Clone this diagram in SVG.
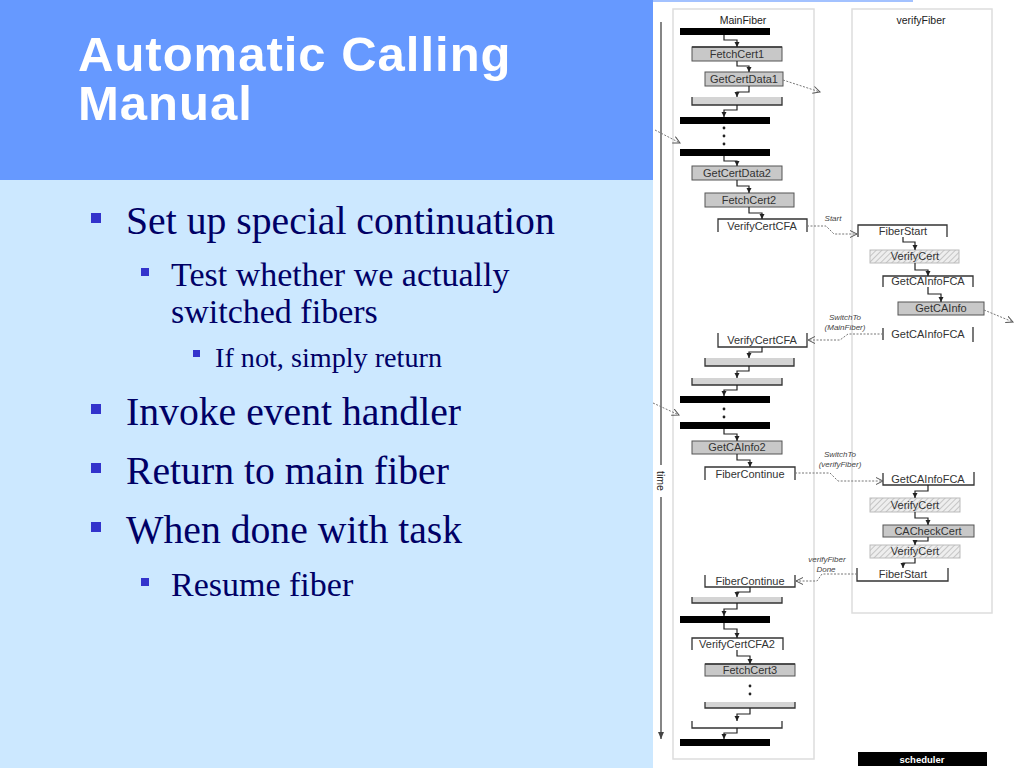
<svg xmlns="http://www.w3.org/2000/svg" width="1024" height="768" viewBox="0 0 1024 768">
<defs>
<style>
.title{font-family:"Liberation Sans",Arial,sans-serif;font-weight:bold;font-size:49px;letter-spacing:1px;fill:#ffffff}
.b1{font-family:"Liberation Serif","Times New Roman",serif;font-size:39.7px;fill:#000066}
.b2{font-family:"Liberation Serif","Times New Roman",serif;font-size:34px;fill:#000066}
.b3{font-family:"Liberation Serif","Times New Roman",serif;font-size:28.2px;fill:#000066}
.bul{fill:#3333cc}
.lbl{font-family:"Liberation Sans",Arial,sans-serif;font-size:11px;fill:#333333;text-anchor:middle}
.col{font-family:"Liberation Sans",Arial,sans-serif;font-size:10.5px;fill:#222222;text-anchor:middle}
.it{font-family:"Liberation Sans",Arial,sans-serif;font-size:8px;font-style:italic;fill:#444444;text-anchor:middle}
.bar{fill:#000000}
.call{fill:#c8c8c8;stroke:#555555;stroke-width:1}
.ret{fill:#d4d4d4;stroke:none}
.brk{fill:none;stroke:#333333;stroke-width:1.3}
.hat{fill:url(#hatch);stroke:#bbbbbb;stroke-width:1}
.con{fill:none;stroke:#222222;stroke-width:1.2;marker-end:url(#tip)}
.dot{fill:none;stroke:#777777;stroke-width:1;stroke-dasharray:2,1.5;marker-end:url(#dtip)}
.colbox{fill:none;stroke:#dddddd;stroke-width:1.5}
</style>
<pattern id="hatch" width="4" height="4" patternUnits="userSpaceOnUse" patternTransform="rotate(45)">
<rect width="4" height="4" fill="#eeeeee"/>
<line x1="0" y1="0" x2="0" y2="4" stroke="#aaaaaa" stroke-width="1.2"/>
</pattern>
<marker id="tip" markerUnits="userSpaceOnUse" markerWidth="6" markerHeight="6" refX="5" refY="3" orient="auto">
<path d="M0,0.5 L5,3 L0,5.5 z" fill="#222222"/>
</marker>
<marker id="dtip" markerUnits="userSpaceOnUse" markerWidth="8" markerHeight="8" refX="7" refY="4" orient="auto">
<path d="M0,0.5 L7,4 L0,7.5" fill="none" stroke="#555555" stroke-width="1"/>
</marker>
<marker id="axis" markerUnits="userSpaceOnUse" markerWidth="8" markerHeight="8" refX="4" refY="7" orient="0">
<path d="M1,0 L4,7 L7,0 z" fill="#444444"/>
</marker>
</defs>

<!-- backgrounds -->
<rect x="0" y="0" width="1024" height="768" fill="#ffffff"/>
<rect x="0" y="180" width="653" height="588" fill="#cce8ff"/>
<rect x="0" y="0" width="653" height="180" fill="#6699ff"/>
<rect x="653" y="0" width="260" height="2" fill="#6699ff" opacity="0.6"/>

<!-- title -->
<g id="title">
<text class="title" x="78" y="71">Automatic Calling</text>
<text class="title" x="78" y="120">Manual</text>
</g>

<!-- bullets -->
<g id="bullets">
<rect class="bul" x="91" y="213" width="10" height="10"/>
<text class="b1" x="126" y="234">Set up special continuation</text>
<rect class="bul" x="141" y="268" width="8" height="8"/>
<text class="b2" x="171" y="286">Test whether we actually</text>
<text class="b2" x="171" y="323">switched fibers</text>
<rect class="bul" x="193" y="350" width="7" height="7"/>
<text class="b3" x="215" y="367">If not, simply return</text>
<rect class="bul" x="91" y="404" width="10" height="10"/>
<text class="b1" x="126" y="425">Invoke event handler</text>
<rect class="bul" x="91" y="463" width="10" height="10"/>
<text class="b1" x="126" y="484">Return to main fiber</text>
<rect class="bul" x="91" y="522" width="10" height="10"/>
<text class="b1" x="126" y="543">When done with task</text>
<rect class="bul" x="141" y="578" width="8" height="8"/>
<text class="b2" x="171" y="596">Resume fiber</text>
</g>

<!-- time axis -->
<g id="time-axis">
<line x1="661" y1="22" x2="661" y2="465" stroke="#444444" stroke-width="1.3"/>
<line x1="661" y1="497" x2="661" y2="739" stroke="#444444" stroke-width="1.3" marker-end="url(#axis)"/>
<text x="661" y="481" transform="rotate(90 661 481)" text-anchor="middle" dominant-baseline="central" font-family="'Liberation Sans',Arial,sans-serif" font-size="10.5" fill="#222222">time</text>
</g>

<!-- fiber columns -->
<g id="col-mainfiber">
<rect class="colbox" x="673" y="9" width="141" height="750"/>
<text class="col" x="743" y="24">MainFiber</text>
</g>
<g id="col-verifyfiber">
<rect class="colbox" x="852" y="9" width="140" height="604"/>
<text class="col" x="921" y="24">verifyFiber</text>
</g>

<!-- MainFiber nodes -->
<g id="n-bar1"><rect class="bar" x="680" y="28" width="90" height="7"/></g>
<g id="n-fetchcert1"><rect class="call" x="692" y="47" width="90" height="14"/><path class="brk" d="M692,47 H782"/><text class="lbl" x="737" y="58">FetchCert1</text></g>
<g id="n-getcertdata1"><rect class="call" x="705" y="72" width="78" height="14"/><text class="lbl" x="744" y="83">GetCertData1</text></g>
<g id="n-ret1"><rect class="ret" x="692" y="97" width="90" height="8"/><path class="brk" d="M692,97 V105 H782 V97"/></g>
<g id="n-bar2"><rect class="bar" x="680" y="117" width="90" height="7"/></g>
<g id="n-dots1"><circle cx="724" cy="128" r="1.4" fill="#222"/><circle cx="724" cy="136" r="1.4" fill="#222"/><circle cx="724" cy="144" r="1.4" fill="#222"/></g>
<g id="n-bar3"><rect class="bar" x="680" y="149" width="90" height="7"/></g>
<g id="n-getcertdata2"><rect class="call" x="692" y="166" width="90" height="14"/><text class="lbl" x="737" y="177">GetCertData2</text></g>
<g id="n-fetchcert2"><rect class="call" x="705" y="193" width="89" height="14"/><text class="lbl" x="749" y="204">FetchCert2</text></g>
<g id="n-verifycertcfa1"><path class="brk" d="M718,232 V219 H807 V232"/><text class="lbl" x="762" y="230">VerifyCertCFA</text></g>
<g id="n-verifycertcfa2"><path class="brk" d="M718,333 V347 H807 V333"/><text class="lbl" x="762" y="344">VerifyCertCFA</text></g>
<g id="n-ret2"><rect class="ret" x="705" y="358" width="89" height="8"/><path class="brk" d="M705,358 V366 H794 V358"/></g>
<g id="n-ret3"><rect class="ret" x="692" y="378" width="90" height="7"/><path class="brk" d="M692,378 V385 H782 V378"/></g>
<g id="n-bar4"><rect class="bar" x="680" y="396" width="90" height="7"/></g>
<g id="n-dots2"><circle cx="724" cy="409" r="1.4" fill="#222"/><circle cx="724" cy="417" r="1.4" fill="#222"/></g>
<g id="n-bar5"><rect class="bar" x="680" y="422" width="90" height="7"/></g>
<g id="n-getcainfo2"><rect class="call" x="692" y="441" width="90" height="13"/><text class="lbl" x="737" y="451">GetCAInfo2</text></g>
<g id="n-fibercontinue1"><path class="brk" d="M705,480 V467 H795 V480"/><text class="lbl" x="750" y="478">FiberContinue</text></g>
<g id="n-fibercontinue2"><path class="brk" d="M705,575 V587 H795 V575"/><text class="lbl" x="750" y="585">FiberContinue</text></g>
<g id="n-ret4"><rect class="ret" x="692" y="597" width="90" height="6"/><path class="brk" d="M692,597 V603 H782 V597"/></g>
<g id="n-bar6"><rect class="bar" x="680" y="616" width="90" height="7"/></g>
<g id="n-verifycertcfa3"><path class="brk" d="M692,650 V638 H783 V650"/><text class="lbl" x="737" y="648">VerifyCertCFA2</text></g>
<g id="n-fetchcert3"><rect class="call" x="705" y="664" width="90" height="12"/><path class="brk" d="M705,664 H795"/><text class="lbl" x="750" y="674">FetchCert3</text></g>
<g id="n-dots3"><circle cx="750" cy="686" r="1.4" fill="#222"/><circle cx="750" cy="694" r="1.4" fill="#222"/></g>
<g id="n-ret5"><rect class="ret" x="705" y="702" width="90" height="6"/><path class="brk" d="M705,702 V708 H795 V702"/></g>
<g id="n-ret6"><path class="brk" d="M692,721 V728 H782 V721"/></g>
<g id="n-bar7"><rect class="bar" x="680" y="739" width="90" height="7"/></g>

<!-- verifyFiber nodes -->
<g id="n-fiberstart1"><path class="brk" d="M858,237 V225 H947 V237"/><text class="lbl" x="903" y="235">FiberStart</text></g>
<g id="n-verifycert1"><rect class="hat" x="870" y="250" width="89" height="13"/><text class="lbl" x="915" y="260">VerifyCert</text></g>
<g id="n-getcainfofca1"><path class="brk" d="M883,287 V276 H973 V287"/><text class="lbl" x="928" y="285">GetCAInfoFCA</text></g>
<g id="n-getcainfo"><rect class="call" x="898" y="302" width="86" height="13"/><text class="lbl" x="941" y="312">GetCAInfo</text></g>
<g id="n-getcainfofca2"><path class="brk" d="M883,328 V340 M973,327 V342"/><text class="lbl" x="928" y="338">GetCAInfoFCA</text></g>
<g id="n-getcainfofca3"><path class="brk" d="M883,473 V485 H974 V472"/><text class="lbl" x="928" y="483">GetCAInfoFCA</text></g>
<g id="n-verifycert2"><rect class="hat" x="870" y="498" width="90" height="14"/><text class="lbl" x="915" y="509">VerifyCert</text></g>
<g id="n-cacheckcert"><rect class="call" x="883" y="525" width="91" height="12"/><text class="lbl" x="928" y="535">CACheckCert</text></g>
<g id="n-verifycert3"><rect class="hat" x="870" y="545" width="90" height="13"/><text class="lbl" x="915" y="555">VerifyCert</text></g>
<g id="n-fiberstart2"><path class="brk" d="M857,568 V581 H948 V568"/><text class="lbl" x="903" y="578">FiberStart</text></g>

<!-- scheduler -->
<g id="n-scheduler">
<rect x="858" y="752" width="129" height="14" fill="#000000"/>
<text x="922" y="763" text-anchor="middle" font-family="'Liberation Sans',Arial,sans-serif" font-size="9.5" font-weight="bold" fill="#ffffff">scheduler</text>
</g>

<!-- connectors -->
<g id="connectors">
<path class="con" d="M724,35 V40 H737 V47"/>
<path class="con" d="M737,61 V66 H749 V72"/>
<path class="con" d="M749,86 V92 H737 V97"/>
<path class="con" d="M737,105 V110 H724 V117"/>
<path class="con" d="M724,156 V161 H737 V166"/>
<path class="con" d="M737,180 V186 H749 V193"/>
<path class="con" d="M749,207 V213 H762 V219"/>
<path class="con" d="M762,347 V352 H749 V358"/>
<path class="con" d="M749,366 V371 H737 V378"/>
<path class="con" d="M737,385 V390 H724 V396"/>
<path class="con" d="M724,429 V434 H737 V441"/>
<path class="con" d="M737,454 V460 H750 V467"/>
<path class="con" d="M750,587 V592 H737 V597"/>
<path class="con" d="M737,603 V609 H724 V616"/>
<path class="con" d="M724,623 V629 H737 V638"/>
<path class="con" d="M737,650 V656 H750 V664"/>
<path class="con" d="M750,708 V714 H737 V721"/>
<path class="con" d="M737,728 V733 H724 V739"/>
<path class="con" d="M903,237 V242 H915 V250"/>
<path class="con" d="M915,263 V270 H928 V276"/>
<path class="con" d="M928,287 V294 H941 V302"/>
<path class="con" d="M928,485 V491 H915 V498"/>
<path class="con" d="M915,512 V518 H928 V525"/>
<path class="con" d="M928,537 V541 H915 V545"/>
<path class="con" d="M915,558 V563 H903 V568"/>

<path class="dot" d="M783,80 L820,92"/>
<path class="dot" d="M655,130 L680,143"/>
<path class="dot" d="M653,403 L679,415"/>
<path class="dot" d="M984,310 L1013,322"/>
<path class="dot" d="M807,226 H826 L834,234 H857"/>
<text class="it" x="833" y="221">Start</text>
<path class="dot" d="M883,334 H848 L840,340 H808"/>
<text class="it" x="845" y="320">SwitchTo</text>
<text class="it" x="845" y="330">(MainFiber)</text>
<path class="dot" d="M795,473 H830 L838,481 H883"/>
<text class="it" x="840" y="457">SwitchTo</text>
<text class="it" x="840" y="467">(verifyFiber)</text>
<path class="dot" d="M857,574 H822 L817,581 H796"/>
<text class="it" x="827" y="562">verifyFiber</text>
<text class="it" x="826" y="572">Done</text>
</g>
</svg>
